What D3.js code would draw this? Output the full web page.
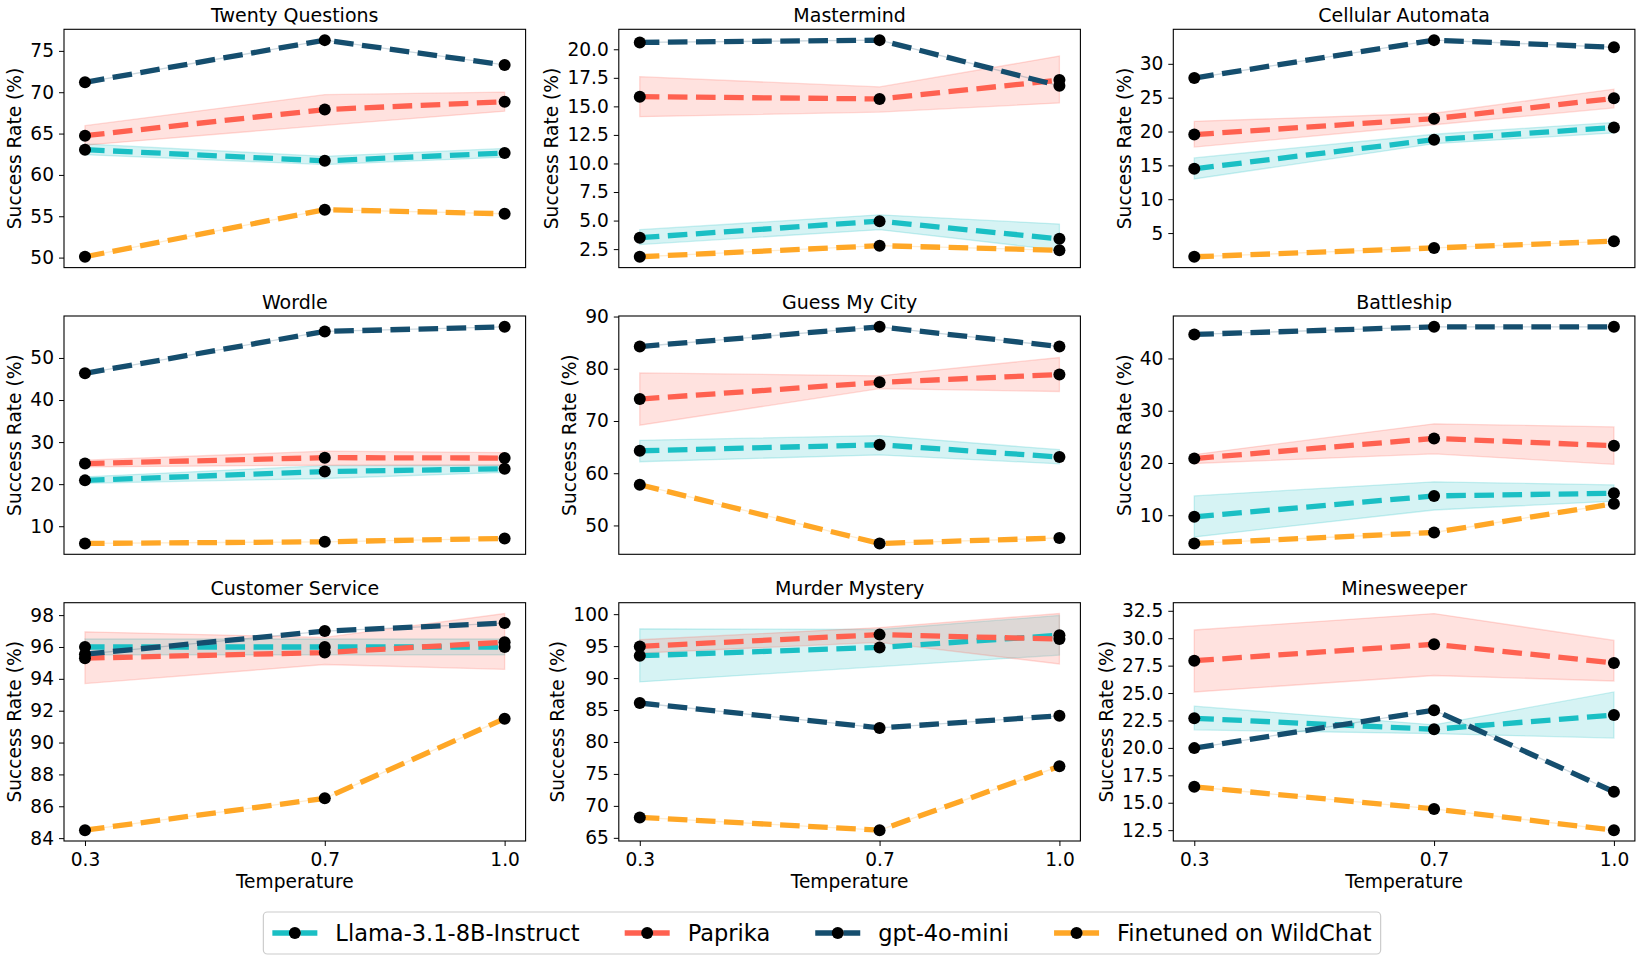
<!DOCTYPE html>
<html>
<head>
<meta charset="utf-8">
<script src="https://cdn.jsdelivr.net/npm/d3@7"></script>
<style>
  body { margin: 0; background: #fff; }
  svg { font-family: "DejaVu Sans", sans-serif; }
</style>
</head>
<body>
<svg id="chart" width="1644" height="964"></svg>
<script>
// 1: DATA
const games = ["Twenty Questions", "Mastermind", "Cellular Automata",
               "Wordle", "Guess My City", "Battleship",
               "Customer Service", "Murder Mystery", "Minesweeper"];
const temps = [0.3, 0.7, 1.0];
const tempLabels = ["0.3", "0.7", "1.0"];
const modelNames = ["Llama-3.1-8B-Instruct", "Paprika", "gpt-4o-mini", "Finetuned on WildChat"];

// one row per game, values at temperature 0.3 / 0.7 / 1.0
const llamaMean = [
  [63.05, 61.7, 62.65],
  [3.5, 4.95, 3.4],
  [14.5, 18.8, 20.6],
  [20.9, 23.0, 23.65],
  [64.3, 65.45, 63.1],
  [9.7, 13.7, 14.2],
  [96.0, 96.0, 96.0],
  [93.5, 94.8, 96.7],
  [22.7, 21.7, 23.0]
];
const llamaLo = [
  [62.45, 61.25, 62.15],
  [2.9, 4.2, 2.4],
  [13.0, 18.2, 19.8],
  [20.2, 21.35, 22.8],
  [62.2, 63.5, 61.8],
  [5.85, 11.0, 12.7],
  [95.5, 95.5, 95.5],
  [89.4, 91.8, 93.6],
  [21.65, 21.3, 20.9]
];
const llamaHi = [
  [63.75, 62.25, 63.2],
  [4.2, 5.5, 4.7],
  [16.1, 19.6, 21.35],
  [21.75, 24.4, 24.5],
  [66.3, 67.2, 64.5],
  [13.7, 16.4, 15.8],
  [96.5, 96.5, 96.5],
  [97.7, 97.6, 99.8],
  [23.8, 22.1, 25.1]
];
const paprikaMean = [
  [64.75, 67.9, 68.85],
  [15.85, 15.65, 17.3],
  [19.55, 21.9, 24.9],
  [24.9, 26.3, 26.2],
  [74.2, 77.4, 78.9],
  [20.85, 24.7, 23.3],
  [95.3, 95.65, 96.3],
  [94.95, 96.8, 96.1],
  [27.95, 29.45, 27.75]
];
const paprikaLo = [
  [63.6, 66.0, 67.7],
  [14.1, 14.5, 15.3],
  [17.7, 21.0, 23.5],
  [24.1, 24.5, 24.5],
  [69.2, 76.2, 75.65],
  [19.9, 21.75, 19.75],
  [93.7, 94.9, 94.6],
  [93.9, 95.6, 92.2],
  [25.1, 26.6, 26.1]
];
const paprikaHi = [
  [65.95, 69.7, 70.0],
  [17.6, 16.7, 19.4],
  [21.5, 22.7, 26.25],
  [25.7, 27.85, 27.5],
  [79.2, 78.65, 82.15],
  [21.6, 27.5, 26.9],
  [96.95, 96.6, 98.1],
  [96.0, 97.9, 100.1],
  [30.75, 32.25, 29.8]
];
const gptMean = [
  [71.2, 76.3, 73.3],
  [20.6, 20.8, 16.8],
  [27.9, 33.5, 32.45],
  [46.35, 56.3, 57.4],
  [84.26, 88.03, 84.26],
  [44.6, 46.05, 46.05],
  [95.55, 97.0, 97.5],
  [86.1, 82.2, 84.1],
  [19.98, 23.44, 16.0]
];
const wildchatMean = [
  [50.1, 55.8, 55.3],
  [1.83, 2.8, 2.4],
  [1.5, 2.8, 3.8],
  [5.9, 6.3, 7.1],
  [57.8, 46.55, 47.6],
  [4.6, 6.7, 12.2],
  [84.5, 86.5, 91.5],
  [68.2, 66.2, 76.2],
  [16.45, 14.44, 12.5]
];

const yTicks = [
  [50, 55, 60, 65, 70, 75],
  [2.5, 5, 7.5, 10, 12.5, 15, 17.5, 20],
  [5, 10, 15, 20, 25, 30],
  [10, 20, 30, 40, 50],
  [50, 60, 70, 80, 90],
  [10, 20, 30, 40],
  [84, 86, 88, 90, 92, 94, 96, 98],
  [65, 70, 75, 80, 85, 90, 95, 100],
  [12.5, 15, 17.5, 20, 22.5, 25, 27.5, 30, 32.5]
];
const yTickDecimals = [0, 1, 0, 0, 0, 0, 0, 0, 1];

// 2: LAYOUT + STYLE
const colors = ["#1abfc4", "#ff6150", "#154e6e", "#ffa726"];
const colX = [64, 618.8, 1173.3];
const rowY = [29.3, 316, 602.7];
const panelW = 461.6, panelH = 238.3;
const lineW = 5.3, dashes = "19.6 8.5", markerR = 6;
const fontSize = 18.6;

const svg = d3.select("#chart");

// 3: PANELS
games.forEach((game, i) => {
  const row = Math.floor(i / 3), col = i % 3;
  const g = svg.append("g").attr("transform", `translate(${colX[col]},${rowY[row]})`);

  const series = [
    { mean: llamaMean[i], lo: llamaLo[i], hi: llamaHi[i] },
    { mean: paprikaMean[i], lo: paprikaLo[i], hi: paprikaHi[i] },
    { mean: gptMean[i], lo: gptMean[i], hi: gptMean[i] },
    { mean: wildchatMean[i], lo: wildchatMean[i], hi: wildchatMean[i] }
  ];
  const all = series.flatMap(s => [...s.mean, ...s.lo, ...s.hi]);
  const ymin = d3.min(all), ymax = d3.max(all), pad = (ymax - ymin) * 0.05;

  const x = d3.scaleLinear().domain([0.265, 1.035]).range([0, panelW]);
  const y = d3.scaleLinear().domain([ymin - pad, ymax + pad]).range([panelH, 0]);

  // bands first (under all lines)
  series.forEach((s, k) => {
    const area = d3.area()
      .x((d, j) => x(temps[j]))
      .y0((d, j) => y(s.lo[j]))
      .y1((d, j) => y(s.hi[j]));
    g.append("path")
      .datum(s.mean)
      .attr("d", area)
      .attr("fill", colors[k])
      .attr("fill-opacity", 0.18)
      .attr("stroke", colors[k])
      .attr("stroke-opacity", 0.22)
      .attr("stroke-width", 1.3);
  });

  // dashed lines with black markers
  series.forEach((s, k) => {
    const line = d3.line()
      .x((d, j) => x(temps[j]))
      .y(d => y(d));
    g.append("path")
      .datum(s.mean)
      .attr("d", line)
      .attr("fill", "none")
      .attr("stroke", colors[k])
      .attr("stroke-width", lineW)
      .attr("stroke-dasharray", dashes);
    g.selectAll(null)
      .data(s.mean)
      .join("circle")
      .attr("cx", (d, j) => x(temps[j]))
      .attr("cy", d => y(d))
      .attr("r", markerR)
      .attr("fill", "black");
  });

  // frame
  g.append("rect")
    .attr("width", panelW).attr("height", panelH)
    .attr("fill", "none").attr("stroke", "black").attr("stroke-width", 1.1);

  // y axis
  const fmt = yTickDecimals[i] ? d3.format(".1f") : d3.format("d");
  const yAxis = g.append("g")
    .call(d3.axisLeft(y).tickValues(yTicks[i]).tickSize(5).tickPadding(5).tickFormat(fmt));
  yAxis.select(".domain").remove();
  yAxis.selectAll("text").attr("font-size", fontSize).attr("font-family", "DejaVu Sans").attr("fill", "black");
  yAxis.selectAll("line").attr("stroke", "black");
  const yb = yAxis.node().getBBox();

  g.append("text")
    .attr("transform", `translate(${yb.x - 9},${panelH / 2}) rotate(-90)`)
    .attr("text-anchor", "middle")
    .attr("font-size", fontSize)
    .text("Success Rate (%)");

  // title
  g.append("text")
    .attr("x", panelW / 2).attr("y", -7.5)
    .attr("text-anchor", "middle")
    .attr("font-size", 19)
    .text(game);

  // x axis only on bottom row
  if (row === 2) {
    const xAxis = g.append("g")
      .attr("transform", `translate(0,${panelH})`)
      .call(d3.axisBottom(x).tickValues(temps).tickSize(5).tickPadding(6.5)
        .tickFormat((d, j) => tempLabels[j]));
    xAxis.select(".domain").remove();
    xAxis.selectAll("text").attr("font-size", fontSize).attr("font-family", "DejaVu Sans").attr("fill", "black");
    xAxis.selectAll("line").attr("stroke", "black");

    g.append("text")
      .attr("x", panelW / 2).attr("y", panelH + 47)
      .attr("text-anchor", "middle")
      .attr("font-size", fontSize)
      .text("Temperature");
  }
});

// 4: LEGEND
const lgFont = 22.5, handleLen = 45, textPad = 18, colGap = 45, boxPad = 9;
const legend = svg.append("g");
const frame = legend.append("rect");
let cursor = 0;
modelNames.forEach((name, k) => {
  const it = legend.append("g").attr("transform", `translate(${cursor},0)`);
  it.append("line")
    .attr("x1", 0).attr("x2", handleLen)
    .attr("stroke", colors[k]).attr("stroke-width", lineW)
    .attr("stroke-dasharray", dashes);
  it.append("circle").attr("cx", handleLen / 2).attr("r", markerR).attr("fill", "black");
  const t = it.append("text")
    .attr("x", handleLen + textPad).attr("dy", "0.35em")
    .attr("font-size", lgFont)
    .text(name);
  cursor += handleLen + textPad + t.node().getComputedTextLength() + colGap;
});
const legW = cursor - colGap + boxPad * 2;
const legH = 42;
const legX = 822 - legW / 2, legCY = 933;
legend.attr("transform", `translate(${legX + boxPad},${legCY})`);
frame
  .attr("x", -boxPad).attr("y", -legH / 2)
  .attr("width", legW).attr("height", legH)
  .attr("rx", 4)
  .attr("fill", "white").attr("fill-opacity", 0.8)
  .attr("stroke", "#cccccc").attr("stroke-width", 1.2);
</script>
</body>
</html>
